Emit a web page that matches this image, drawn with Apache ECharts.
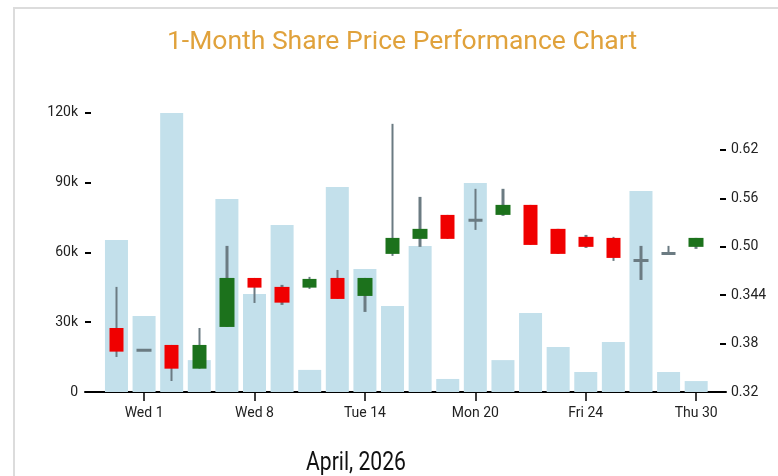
<!DOCTYPE html>
<html>
<head>
<meta charset="utf-8">
<script src="https://cdn.jsdelivr.net/npm/echarts@6/dist/echarts.min.js"></script>
<style>
html,body{margin:0;padding:0;background:#fff;}
#chart{width:778px;height:476px;}
</style>
</head>
<body>
<div id="chart"></div>
<script>
// trading days (Mar 31 .. Apr 30, Good Friday closed)
var days=['Tue 31','Wed 1','Thu 2','Mon 6','Tue 7','Wed 8','Thu 9','Fri 10','Mon 13','Tue 14','Wed 15',
          'Thu 16','Fri 17','Mon 20','Tue 21','Wed 22','Thu 23','Fri 24','Mon 27','Tue 28','Wed 29','Thu 30'];
var dayTicks=[1,5,9,13,17,21];
var volume=[65300,32700,119900,13700,82900,42100,71800,9500,88100,52800,37000,
            62700,5600,89800,13700,33900,19300,8600,21500,86400,8600,4700];
var openP =[0.3993,0.3717,0.3783,0.3489,0.4006,0.4613,0.4502,0.4493,0.4613,0.4390,0.4911,
            0.5097,0.5394,0.5329,0.5394,0.5518,0.5221,0.5122,0.5109,0.4830,0.4917,0.4998];
var closeP=[0.3700,0.3717,0.3489,0.3783,0.4613,0.4493,0.4307,0.4601,0.4353,0.4613,0.5109,
            0.5221,0.5097,0.5329,0.5518,0.5022,0.4911,0.4998,0.4861,0.4830,0.4917,0.5109];
var lowP  =[0.3634,0.3717,0.3336,0.3489,0.4006,0.4303,0.4279,0.4477,0.4353,0.4192,0.4886,
            0.4998,0.5097,0.5208,0.5382,0.5022,0.4911,0.4985,0.4824,0.4588,0.4917,0.4973];
var highP =[0.4502,0.3717,0.3783,0.3993,0.5010,0.4613,0.4527,0.4626,0.4712,0.4613,0.6522,
            0.5617,0.5394,0.5717,0.5717,0.5518,0.5221,0.5146,0.5122,0.5010,0.5010,0.5109];
var volTickLabels=['0','30k','60k','90k','120k'];
var priceTicks=[0.32,0.38,0.44,0.50,0.56,0.62];
var priceTickLabels=['0.32','0.38','0.344','0.50','0.56','0.62'];

var chart=echarts.init(document.getElementById('chart'));
var font='Roboto';
var grey='#6b7b82';

var volData=[],wickData=[],bodyData=[],dojiData=[];
for(var i=0;i<days.length;i++){
    volData.push([i,volume[i]]);
    wickData.push([i,lowP[i],highP[i],lowP[i],highP[i]]);
    bodyData.push([i,openP[i],closeP[i],Math.min(openP[i],closeP[i]),Math.max(openP[i],closeP[i])]);
    if(openP[i]===closeP[i]){   // flat day: grey dash
        dojiData.push([i,openP[i],closeP[i],openP[i],closeP[i]]);
    }
}

var option={
    animation:false,
    graphic:[
        {type:'rect',shape:{x:14,y:8,width:900,height:600},style:{fill:'none',stroke:'#dcdcdc',lineWidth:2},silent:true},
        {type:'text',x:402,y:42,style:{text:'1-Month Share Price Performance Chart',fill:'#e0a23c',font:'26.5px Roboto',textAlign:'center',textVerticalAlign:'middle'}},
        {type:'text',x:356,y:464,scaleX:0.845,style:{text:'April, 2026',fill:'#111',font:'25px Roboto',textAlign:'center',textVerticalAlign:'middle'}}
    ],
    grid:{left:85,right:52,top:112.7,bottom:84},
    xAxis:{
        type:'value',
        min:-1.14,
        max:22.08,
        splitLine:{show:false},
        axisLine:{show:true,onZero:false,lineStyle:{color:'#000',width:2}},
        axisTick:{show:true,length:9,lineStyle:{color:'#000',width:1.5},customValues:dayTicks},
        axisLabel:{
            customValues:dayTicks,
            margin:14,
            color:'#222',
            fontFamily:font,
            fontSize:14,
            formatter:function(v){return days[Math.round(v)];}
        }
    },
    yAxis:[
        {
            type:'value',
            min:0,
            max:120000,
            interval:30000,
            splitLine:{show:false},
            axisLine:{show:false,onZero:false},
            axisTick:{show:true,inside:true,length:6,lineStyle:{color:'#000',width:2}},
            axisLabel:{
                margin:7,
                color:'#222',
                fontFamily:font,
                fontSize:14,
                formatter:function(v){return volTickLabels[Math.round(v/30000)];}
            }
        },
        {
            type:'value',
            position:'right',
            min:0.32,
            max:0.666,
            splitLine:{show:false},
            axisLine:{show:false,onZero:false},
            axisTick:{show:true,inside:true,length:6,lineStyle:{color:'#000',width:2},customValues:priceTicks},
            axisLabel:{
                customValues:priceTicks,
                margin:5,
                color:'#222',
                fontFamily:font,
                fontSize:14,
                formatter:function(v){
                    for(var k=0;k<priceTicks.length;k++){
                        if(Math.abs(priceTicks[k]-v)<1e-6) return priceTickLabels[k];
                    }
                    return '';
                }
            }
        }
    ],
    series:[
        {
            name:'Volume',
            type:'bar',
            barWidth:23,
            itemStyle:{color:'#c3e0eb'},
            data:volData
        },
        {
            name:'Wick',
            type:'candlestick',
            yAxisIndex:1,
            barWidth:3,
            encode:{x:0,y:[1,2,3,4]},
            itemStyle:{color:grey,color0:grey,borderColor:grey,borderColor0:grey,borderWidth:0},
            data:wickData
        },
        {
            name:'Price',
            type:'candlestick',
            yAxisIndex:1,
            barWidth:15,
            encode:{x:0,y:[1,2,3,4]},
            itemStyle:{color:'#1c721c',color0:'#f00000',borderColor:'#1c721c',borderColor0:'#f00000',borderWidth:0},
            data:bodyData
        },
        {
            name:'Flat',
            type:'candlestick',
            yAxisIndex:1,
            barWidth:15,
            encode:{x:0,y:[1,2,3,4]},
            itemStyle:{color:grey,color0:grey,borderColor:grey,borderColor0:grey,borderWidth:3},
            data:dojiData
        }
    ]
};
chart.setOption(option);
</script>
</body>
</html>
